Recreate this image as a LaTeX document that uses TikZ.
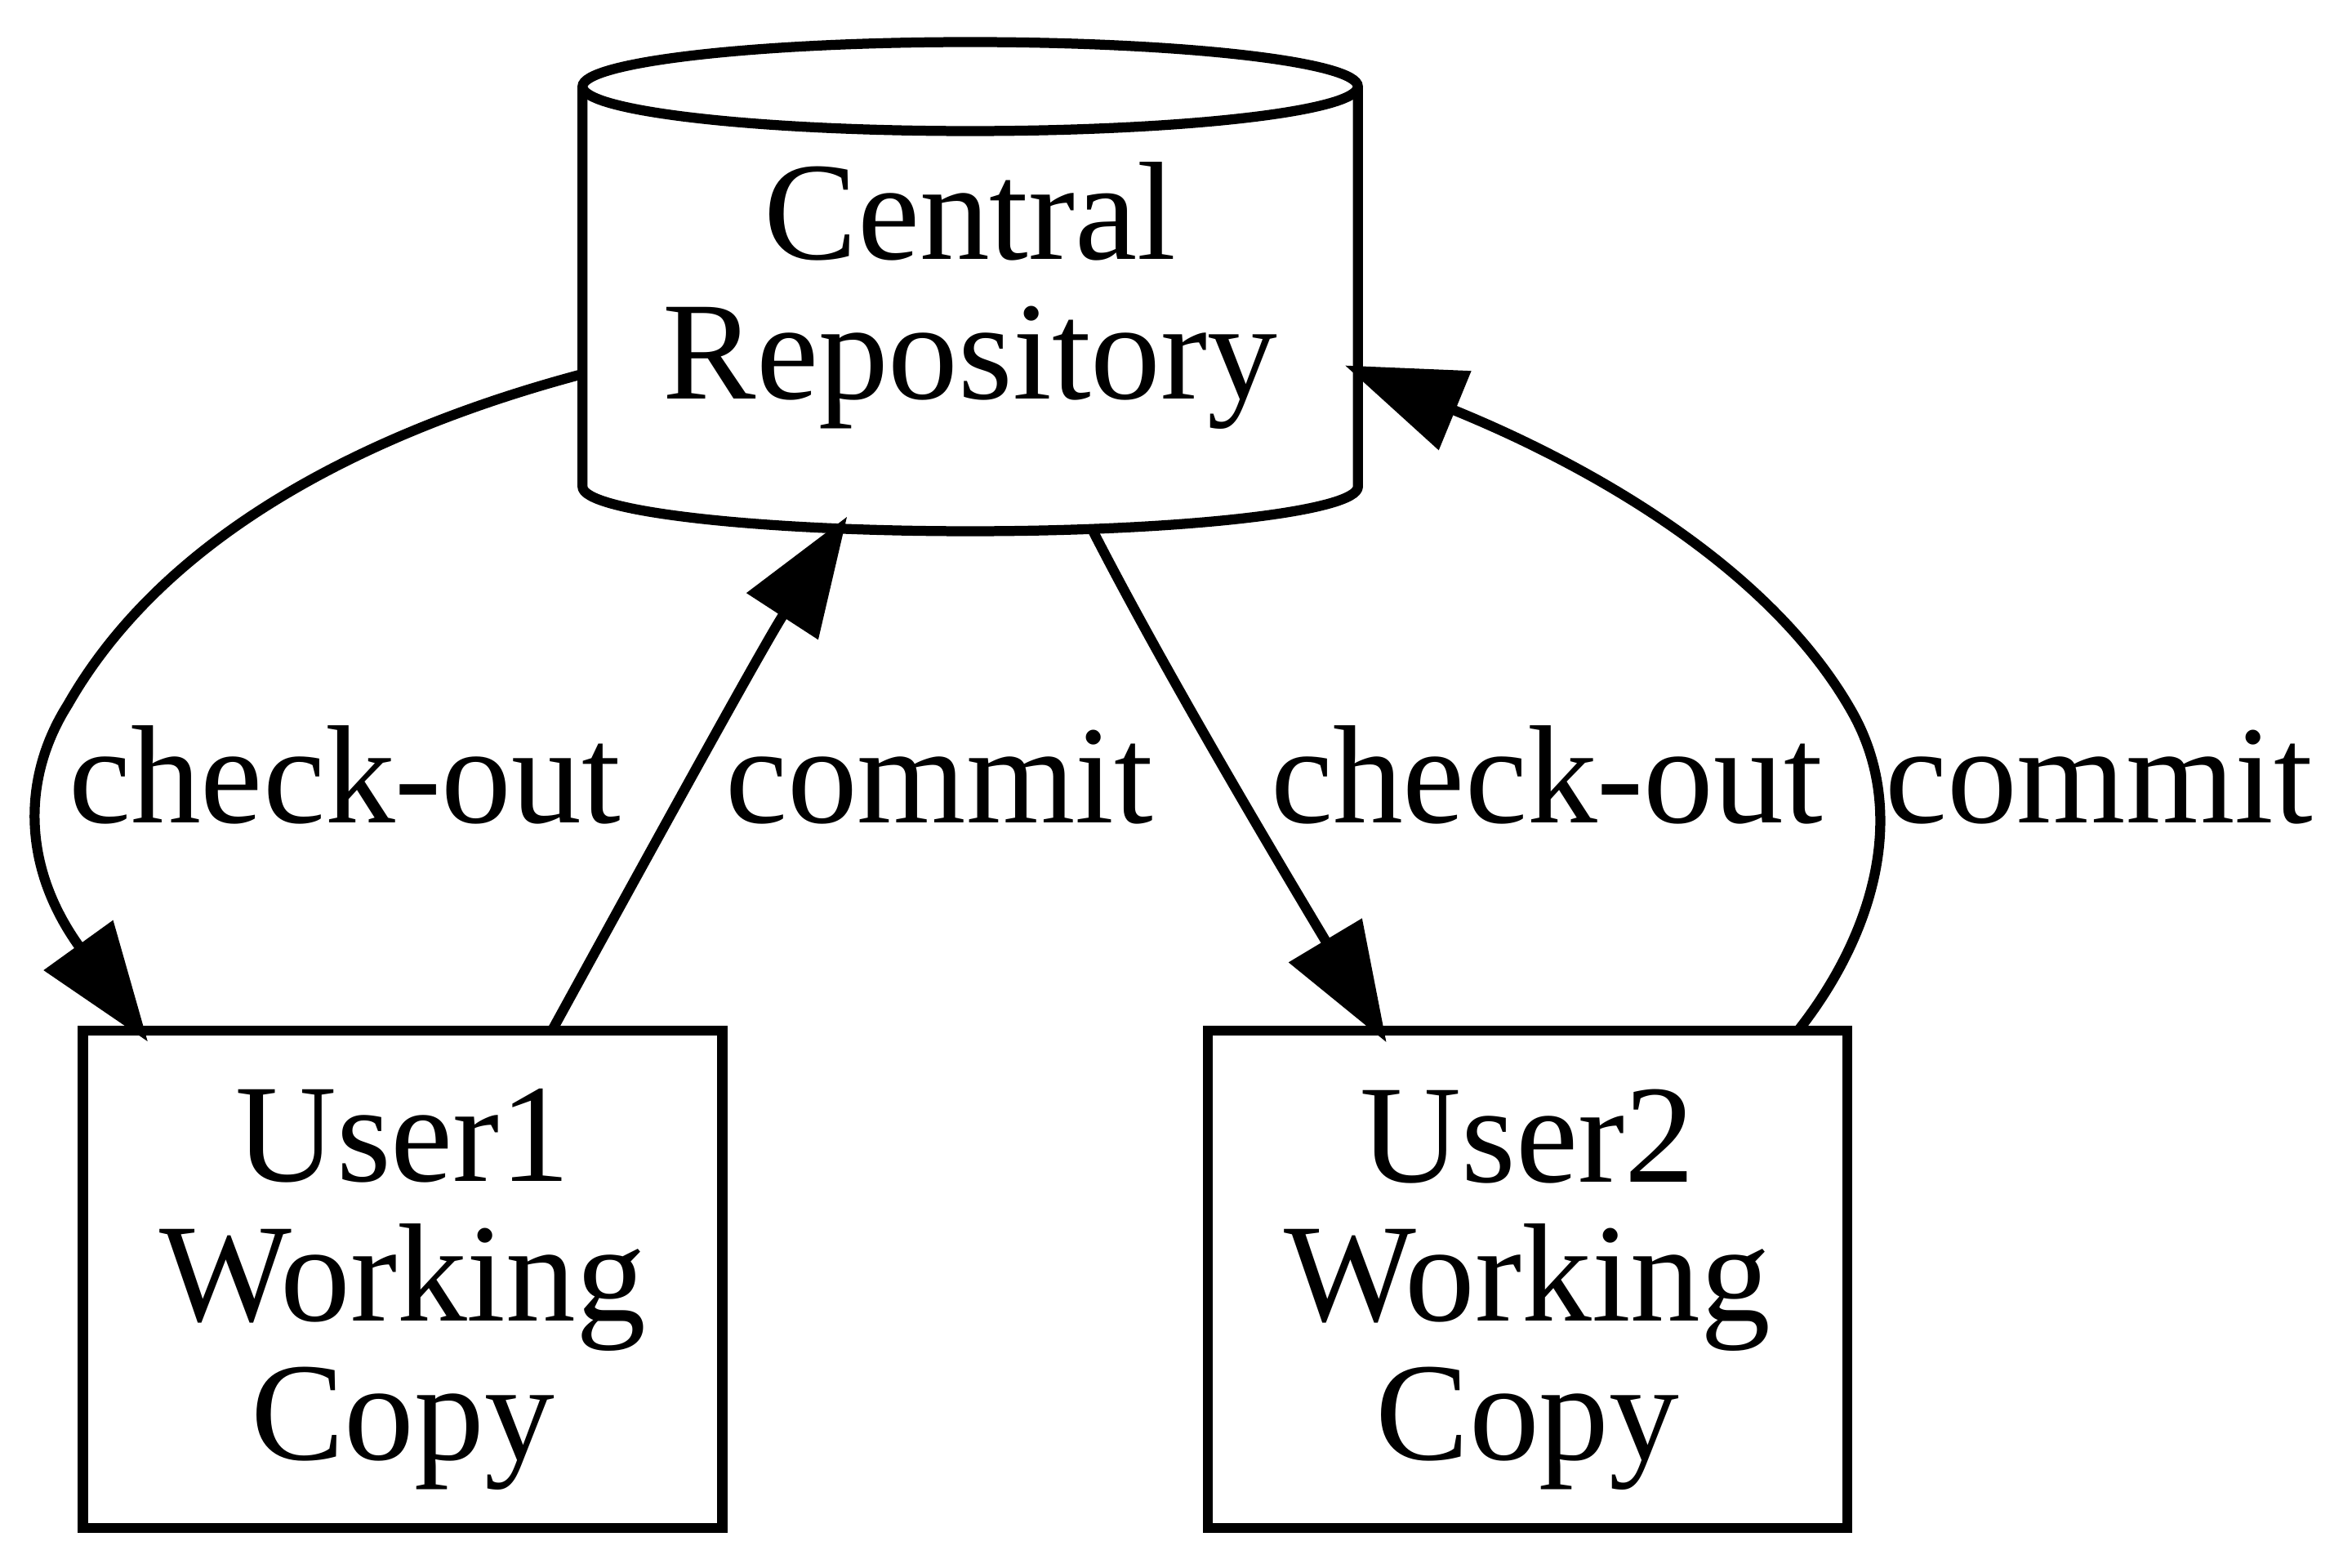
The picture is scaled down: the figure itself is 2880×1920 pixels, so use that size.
\documentclass[tikz,border=0pt]{standalone}
\usepackage{fontspec}
\setmainfont{Liberation Serif}
\usetikzlibrary{arrows.meta}
\begin{document}
\begin{tikzpicture}[x=0.0816667pt, y=-0.0816667pt, line width=1pt,
  lbl/.style={font=\fontsize{14pt}{13.9pt}\selectfont, inner sep=0pt, anchor=base},
  txt/.style={font=\fontsize{14pt}{13.9pt}\selectfont, align=center, inner sep=0pt},
  wbox/.style={draw, rectangle, minimum width=63.95pt, minimum height=49.76pt, inner sep=0pt, outer sep=0pt},
  holder/.style={rectangle, minimum width=77.54pt, minimum height=48.84pt, inner sep=0pt, outer sep=0pt},
  edge/.style={-{Triangle[length=11.9pt,width=8.3pt]}, shorten >=-1.4pt}]

\useasboundingbox (0,0) rectangle (2880,1920);

% central repository (cylinder)
\node[holder] (repo) at (1188,351) {};
\draw[line join=round] (713.3,106) -- (713.3,596)
  arc[start angle=180, end angle=360, x radius=38.77pt, y radius=4.45pt] -- (1662.7,106);
\draw (1188,106) ellipse [x radius=38.77pt, y radius=4.45pt];
\node[txt] (repot) at (1188,362) {Central\\Repository};

% working copies
\node[wbox] (u1) at (493.05,1566.35) {};
\node[txt] (u1t) at (493.05,1579) {User1\\Working\\Copy};
\node[wbox] (u2) at (1870.45,1566.35) {};
\node[txt] (u2t) at (1870.45,1579) {User2\\Working\\Copy};

% connectors
\draw[edge] ([yshift=-8.74pt]repo.west) .. controls (480,520) and (210,640) .. (83,863)
  .. controls (28,950) and (25,1059) .. ([xshift=5.68pt]u1.north west);
\draw[edge] ([xshift=46.92pt]u1.north west) .. controls (785,1063) and (935,790) .. ([xshift=-13.07pt,yshift=0.25pt]repo.south);
\draw[edge] ([xshift=12.17pt,yshift=0.19pt]repo.south) .. controls (1420,810) and (1550,1030) .. ([xshift=17.15pt]u2.north west);
\draw[edge] ([xshift=-4.9pt]u2.north east) .. controls (2290,1150) and (2340,1000) .. (2268,872)
  .. controls (2145,654) and (1848,530) .. ([yshift=-8.41pt]repo.east);

% labels
\node[lbl] (l1) at (422,1008) {check-out};
\node[lbl] (l2) at (1150,1008) {commit};
\node[lbl] (l3) at (1894,1008) {check-out};
\node[lbl] (l4) at (2570,1008) {commit};
\end{tikzpicture}
\end{document}
